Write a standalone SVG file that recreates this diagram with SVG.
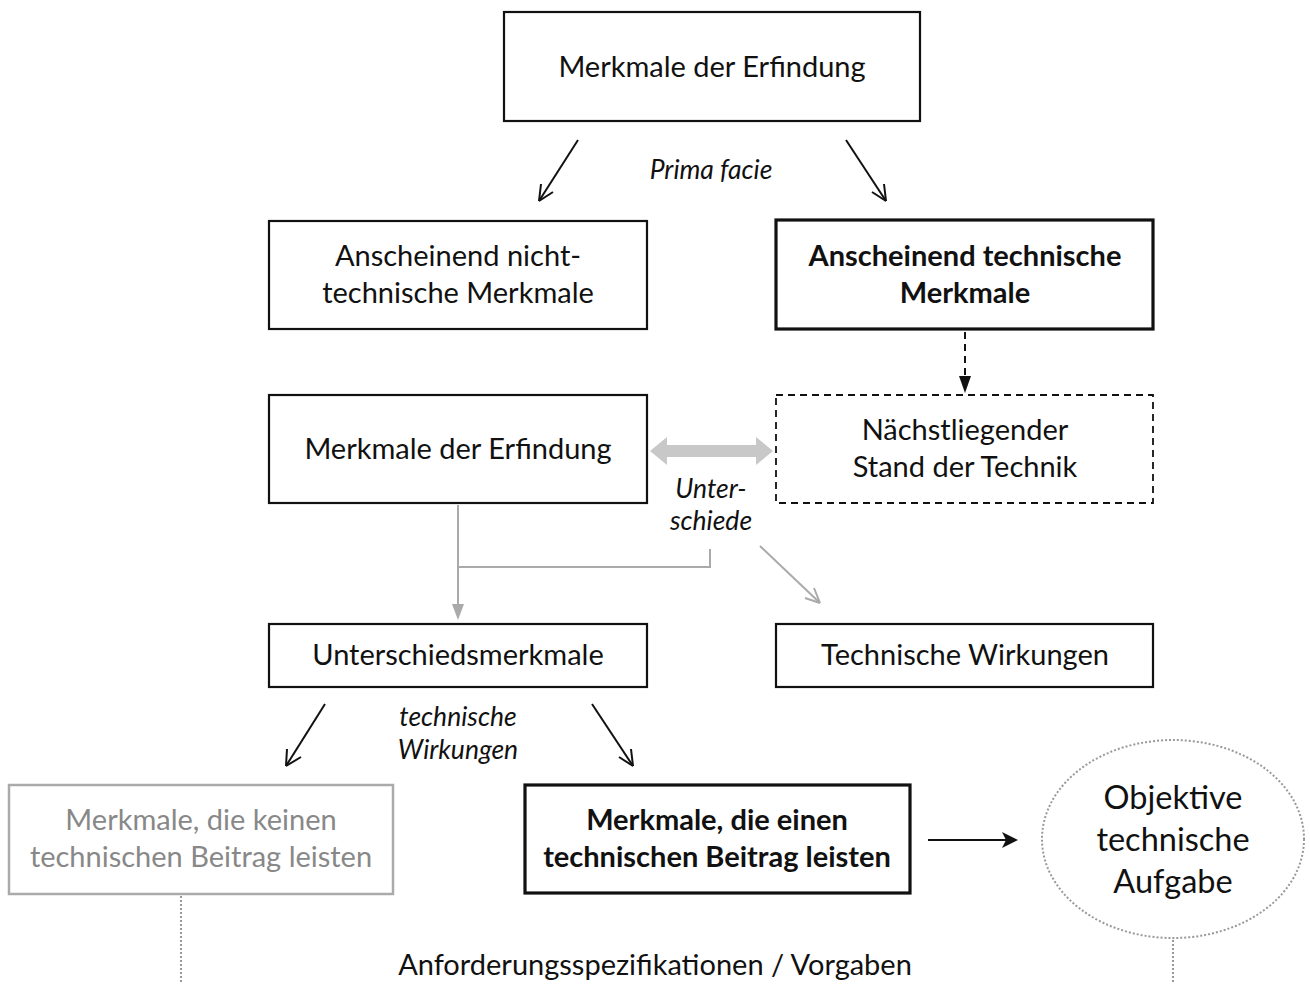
<svg xmlns="http://www.w3.org/2000/svg" width="1310" height="984" viewBox="0 0 1310 984">
<style>
text{font-family:Lato,"Open Sans","Liberation Sans",sans-serif;font-size:29px;fill:#111;text-anchor:middle}
.b{font-weight:bold}
.i{font-style:italic;font-size:26.5px}
.e{font-size:32.5px}
.box{fill:#fff;stroke:#111;stroke-width:2.2}
.bold{fill:#fff;stroke:#111;stroke-width:3.2}
.dash{fill:#fff;stroke:#111;stroke-width:1.8;stroke-dasharray:7 5}
.grey{fill:#fff;stroke:#aaa;stroke-width:2.5}
.g{fill:#888}
.ln{stroke:#111;stroke-width:2;fill:none}
.ga{stroke:#aaa;stroke-width:2;fill:none}
.dot{stroke:#999;stroke-width:2;stroke-dasharray:2 2;fill:none}
</style>
<g id="connectors">
<line class="ln" x1="578" y1="140" x2="539" y2="201"/>
<path class="ln" d="M539,201 l2,-17 M539,201 l14,-9"/>
<line class="ln" x1="846" y1="140" x2="886" y2="201"/>
<path class="ln" d="M886,201 l-14,-9 M886,201 l-2,-17"/>
<line x1="965" y1="332" x2="965" y2="378" stroke="#111" stroke-width="2" stroke-dasharray="7 5"/>
<path d="M959,376 L971,376 L965,393 z" fill="#111"/>
<path d="M650,451 L667,437 L667,445 L756,445 L756,437 L773,451 L756,465 L756,457 L667,457 L667,465 z" fill="#c8c8c8"/>
<line x1="458" y1="505" x2="458" y2="608" class="ga"/>
<path d="M452,604 L464,604 L458,620 z" fill="#aaa"/>
<polyline points="458,567 710,567 710,549" class="ga"/>
<line x1="760" y1="546" x2="820" y2="603" class="ga"/>
<path d="M820,603 l-6,-15 M820,603 l-15,-5" stroke="#aaa" stroke-width="2" fill="none"/>
<line class="ln" x1="325" y1="704" x2="286" y2="766"/>
<path class="ln" d="M286,766 l1,-17 M286,766 l15,-9"/>
<line class="ln" x1="592" y1="704" x2="633" y2="766"/>
<path class="ln" d="M633,766 l-14,-9 M633,766 l-2,-17"/>
<line class="ln" x1="928" y1="840" x2="1016" y2="840"/>
<path d="M1018,840 L1002,832 L1006,840 L1002,848 z" fill="#111"/>
<line x1="181" y1="896" x2="181" y2="984" class="dot"/>
<line x1="1173" y1="940" x2="1173" y2="984" class="dot"/>
</g>
<g id="n1"><rect class="box" x="504" y="12" width="416" height="109"/><text x="712" y="77">Merkmale der Erfindung</text></g>
<text class="i" x="711" y="179">Prima facie</text>
<g id="n2"><rect class="box" x="269" y="221" width="378" height="108"/><text x="458" y="266">Anscheinend nicht-</text><text x="458" y="303">technische Merkmale</text></g>
<g id="n3"><rect class="bold" x="776" y="220" width="377" height="109"/><text class="b" x="965" y="266">Anscheinend technische</text><text class="b" x="965" y="303">Merkmale</text></g>
<g id="n4"><rect class="box" x="269" y="395" width="378" height="108"/><text x="458" y="459">Merkmale der Erfindung</text></g>
<g id="n5"><rect class="dash" x="776" y="395" width="377" height="108"/><text x="965" y="440">Nächstliegender</text><text x="965" y="477">Stand der Technik</text></g>
<text class="i" x="711" y="498">Unter-</text>
<text class="i" x="711" y="530">schiede</text>
<g id="n6"><rect class="box" x="269" y="624" width="378" height="63"/><text x="458" y="665">Unterschiedsmerkmale</text></g>
<g id="n7"><rect class="box" x="776" y="624" width="377" height="63"/><text x="965" y="665">Technische Wirkungen</text></g>
<text class="i" x="458" y="726">technische</text>
<text class="i" x="458" y="759">Wirkungen</text>
<g id="n8"><rect class="grey" x="9" y="785" width="384" height="109"/><text class="g" x="201" y="830">Merkmale, die keinen</text><text class="g" x="201" y="867">technischen Beitrag leisten</text></g>
<g id="n9"><rect class="bold" x="525" y="785" width="385" height="108"/><text class="b" x="717" y="830">Merkmale, die einen</text><text class="b" x="717" y="867">technischen Beitrag leisten</text></g>
<g id="n10"><ellipse cx="1173" cy="839" rx="131" ry="99" fill="#fff" stroke="#999" stroke-width="2" stroke-dasharray="2 2"/><text class="e" x="1173" y="809">Objektive</text><text class="e" x="1173" y="851">technische</text><text class="e" x="1173" y="893">Aufgabe</text></g>
<text x="655" y="975">Anforderungsspezifikationen / Vorgaben</text>
</svg>
